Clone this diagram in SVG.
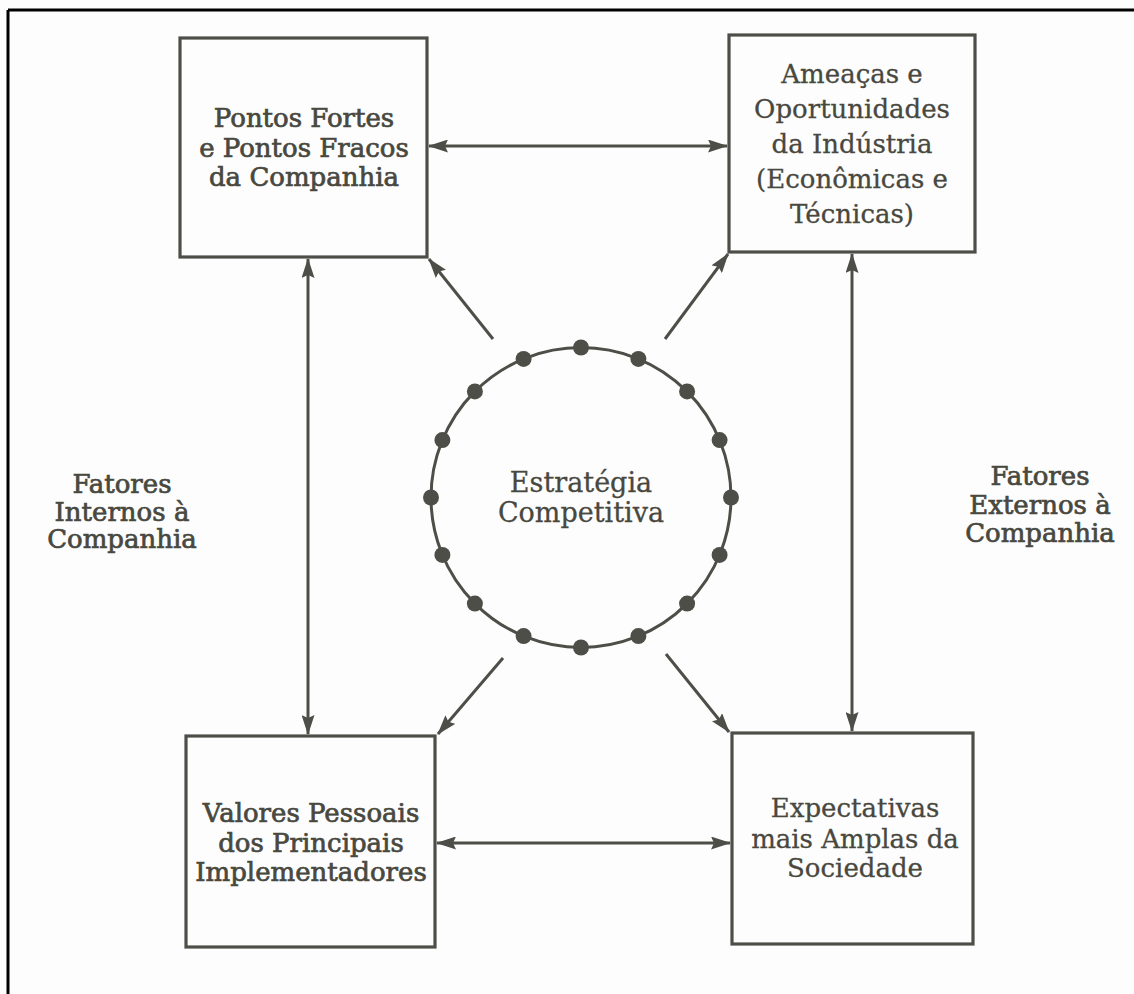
<svg xmlns="http://www.w3.org/2000/svg" width="1134" height="994" viewBox="0 0 1134 994">
<style>
.frame{stroke:#000;stroke-width:3;fill:none}
.box{fill:none;stroke:#4e4e48;stroke-width:3.2}
.t{font-family:"DejaVu Serif","Liberation Serif",serif;font-size:26px;fill:#48483f;text-anchor:middle;stroke:#48483f;stroke-width:0.3}
.hv{stroke-width:0.7}
.con{stroke:#4e4e48;stroke-width:3;fill:none}
.dot{fill:#4e4e48}
</style>
<defs>
<marker id="ah" viewBox="0 0 20 13" refX="19" refY="6.5" markerWidth="20" markerHeight="13" markerUnits="userSpaceOnUse" orient="auto-start-reverse">
<path d="M0,0 L20,6.5 L0,13 L3,6.5 z" fill="#4e4e48"/>
</marker>
</defs>
<rect width="1134" height="994" fill="#fdfdfd"/>
<g id="frame">
<line class="frame" x1="8" y1="10" x2="1134" y2="10"/>
<line class="frame" x1="8" y1="10" x2="8" y2="994"/>
</g>
<g id="connectors">
<line class="con" x1="429" y1="146" x2="727" y2="146" marker-start="url(#ah)" marker-end="url(#ah)"/>
<line class="con" x1="437" y1="843" x2="730" y2="843" marker-start="url(#ah)" marker-end="url(#ah)"/>
<line class="con" x1="308" y1="259" x2="308" y2="734" marker-start="url(#ah)" marker-end="url(#ah)"/>
<line class="con" x1="852" y1="254" x2="852" y2="731" marker-start="url(#ah)" marker-end="url(#ah)"/>
<line class="con" x1="493" y1="339" x2="429" y2="259" marker-end="url(#ah)"/>
<line class="con" x1="665" y1="339" x2="728" y2="254" marker-end="url(#ah)"/>
<line class="con" x1="503" y1="658" x2="438" y2="734" marker-end="url(#ah)"/>
<line class="con" x1="666" y1="654" x2="729" y2="732" marker-end="url(#ah)"/>
</g>
<g id="node-forcas">
<rect class="box" x="180" y="38" width="247" height="219"/>
<text class="t hv" x="304" y="127">Pontos Fortes</text>
<text class="t hv" x="304" y="157">e Pontos Fracos</text>
<text class="t hv" x="304" y="186">da Companhia</text>
</g>
<g id="node-ameacas">
<rect class="box" x="729" y="35" width="246" height="217"/>
<text class="t" x="852" y="83">Ameaças e</text>
<text class="t" x="852" y="118">Oportunidades</text>
<text class="t" x="852" y="153">da Indústria</text>
<text class="t" x="852" y="188">(Econômicas e</text>
<text class="t" x="852" y="223">Técnicas)</text>
</g>
<g id="node-valores">
<rect class="box" x="186" y="736" width="249" height="211"/>
<text class="t hv" x="311" y="822">Valores Pessoais</text>
<text class="t hv" x="311" y="852">dos Principais</text>
<text class="t hv" x="311" y="881">Implementadores</text>
</g>
<g id="node-expectativas">
<rect class="box" x="732" y="733" width="241" height="211"/>
<text class="t" x="855" y="817">Expectativas</text>
<text class="t" x="855" y="848">mais Amplas da</text>
<text class="t" x="855" y="877">Sociedade</text>
</g>
<g id="node-estrategia">
<circle class="con" cx="581" cy="497.5" r="150"/>
<g class="dot">
<circle cx="581.0" cy="347.5" r="8"/>
<circle cx="638.4" cy="358.9" r="8"/>
<circle cx="687.1" cy="391.4" r="8"/>
<circle cx="719.6" cy="440.1" r="8"/>
<circle cx="731.0" cy="497.5" r="8"/>
<circle cx="719.6" cy="554.9" r="8"/>
<circle cx="687.1" cy="603.6" r="8"/>
<circle cx="638.4" cy="636.1" r="8"/>
<circle cx="581.0" cy="647.5" r="8"/>
<circle cx="523.6" cy="636.1" r="8"/>
<circle cx="474.9" cy="603.6" r="8"/>
<circle cx="442.4" cy="554.9" r="8"/>
<circle cx="431.0" cy="497.5" r="8"/>
<circle cx="442.4" cy="440.1" r="8"/>
<circle cx="474.9" cy="391.4" r="8"/>
<circle cx="523.6" cy="358.9" r="8"/>
</g>
<text class="t" x="581" y="492" style="font-size:27px">Estratégia</text>
<text class="t" x="581" y="522" style="font-size:27px">Competitiva</text>
</g>
<g id="label-internos">
<text class="t hv" x="122" y="493">Fatores</text>
<text class="t hv" x="122" y="521">Internos à</text>
<text class="t hv" x="122" y="548">Companhia</text>
</g>
<g id="label-externos">
<text class="t hv" x="1040" y="485">Fatores</text>
<text class="t hv" x="1040" y="514">Externos à</text>
<text class="t hv" x="1040" y="542">Companhia</text>
</g>
</svg>
